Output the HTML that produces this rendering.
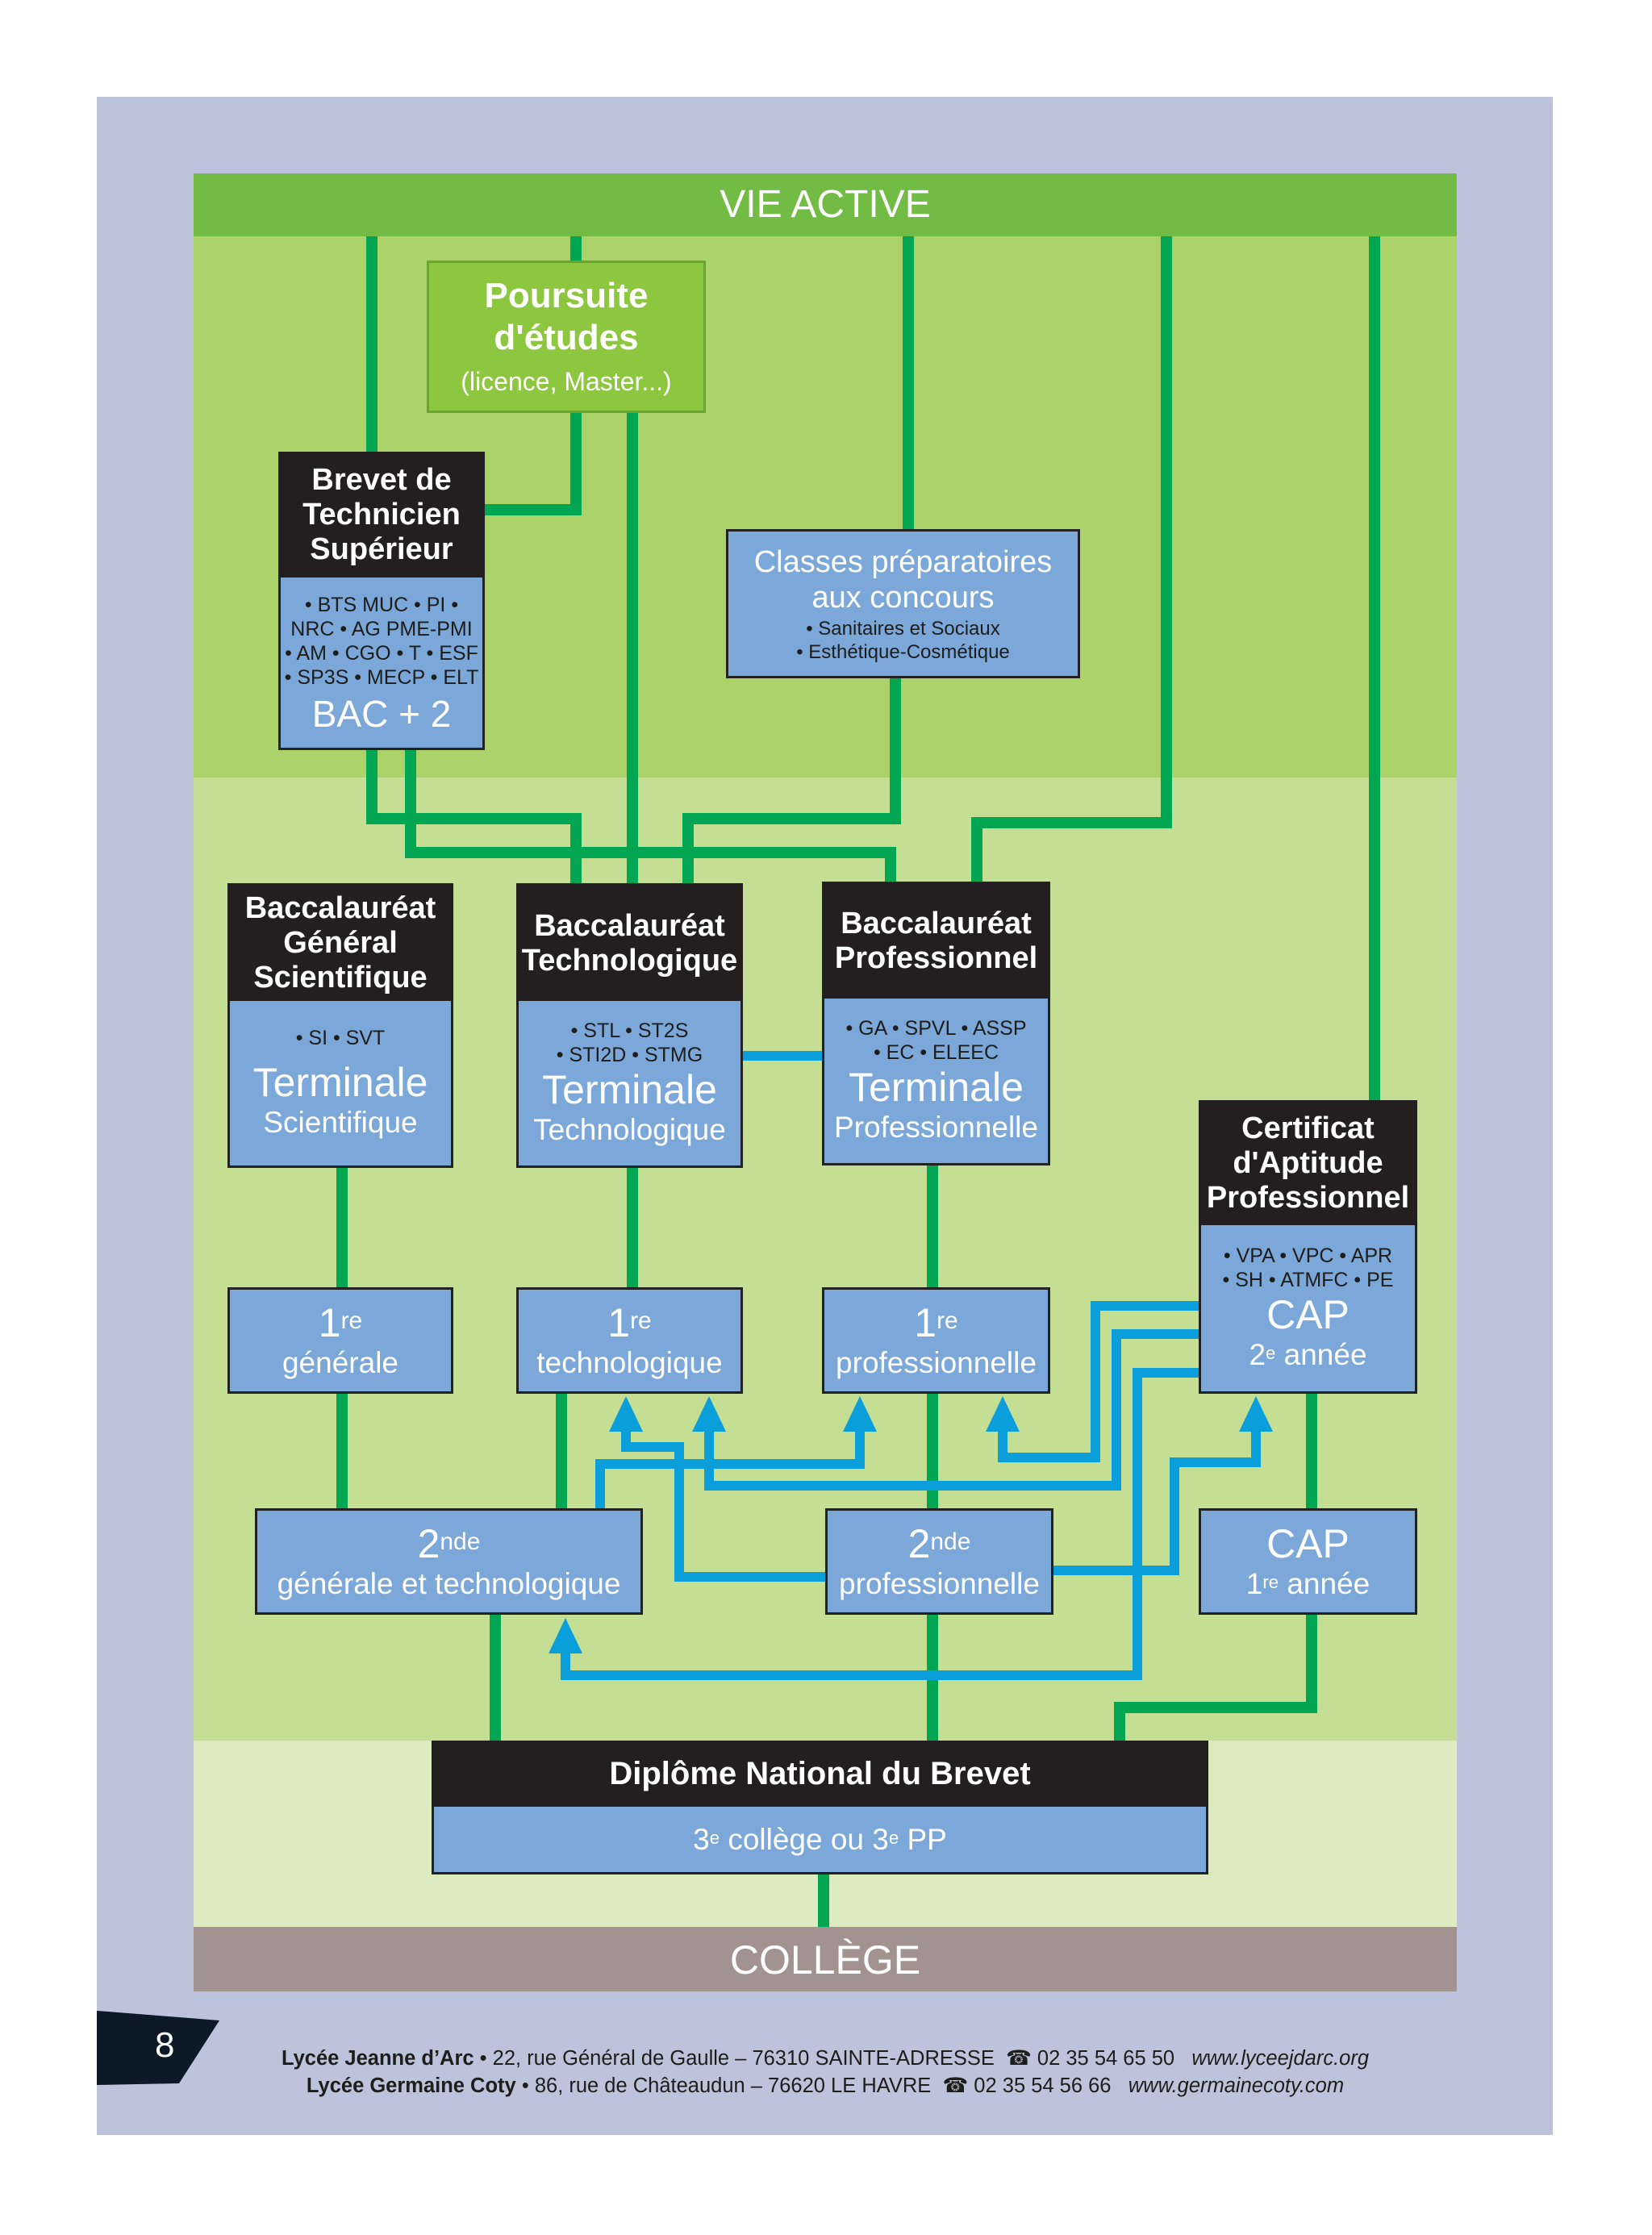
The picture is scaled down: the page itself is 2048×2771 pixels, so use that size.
<!DOCTYPE html>
<html><head><meta charset="utf-8"><style>
*{margin:0;padding:0;box-sizing:border-box}
body{width:2048px;height:2771px;background:#fff;position:relative;overflow:hidden;font-family:"Liberation Sans Narrow","Liberation Sans",sans-serif;}
.a{position:absolute}
.box{position:absolute;border:3px solid #222;background:#7ba7d9;color:#fff;text-align:center;display:flex;flex-direction:column;justify-content:center;align-items:center}
.hd{position:absolute;background:#231f20;color:#fff;text-align:center;font-weight:bold;font-size:38px;line-height:43px;display:flex;flex-direction:column;justify-content:center;align-items:center}
.it{color:#1d1d1b;font-size:25px;line-height:30px}
.big{font-size:50px;line-height:56px}
.sub{font-size:37px;line-height:44px}
sup{font-size:60%;vertical-align:top;position:relative;top:-2px}
</style></head><body>
<div class="a" style="left:120px;top:120px;width:1805px;height:2527px;background:#bcc3da"></div>
<div class="a" style="left:240px;top:293px;width:1566px;height:671px;background:#acd26a"></div>
<div class="a" style="left:240px;top:964px;width:1566px;height:1194px;background:#c4df94"></div>
<div class="a" style="left:240px;top:2158px;width:1566px;height:231px;background:#dcebc0"></div>
<div class="a" style="left:240px;top:215px;width:1566px;height:78px;background:#72bb45;color:#fff;font-size:48px;line-height:78px;text-align:center">VIE ACTIVE</div>
<div class="a" style="left:240px;top:2389px;width:1566px;height:80px;background:#a29391;color:#fff;font-size:50px;line-height:82px;text-align:center">COLLÈGE</div>

<svg class="a" style="left:0;top:0" width="2048" height="2771">
<g fill="none" stroke="#00a651" stroke-width="14">
<path d="M461 293V560"/><path d="M714 293V323"/>
<path d="M714 512V632H601"/>
<path d="M784 512V1095"/>
<path d="M1126 293V656"/>
<path d="M1110 841V1015H853V1095"/>
<path d="M1446 293V1020H1211V1093"/>
<path d="M1704 293V1364"/>
<path d="M461 930V1015H714V1095"/>
<path d="M509 930V1057H1104V1093"/>
<path d="M424 1448V1596"/><path d="M784 1448V1596"/><path d="M1156 1445V1596"/>
<path d="M424 1728V1870"/><path d="M696 1728V1870"/><path d="M1156 1728V1870"/>
<path d="M1626 1728V1870"/>
<path d="M614 2002V2158"/><path d="M1156 2002V2158"/>
<path d="M1626 2002V2117H1388V2158"/>
<path d="M1021 2324V2389"/>
</g>
<g fill="none" stroke="#0a9edb" stroke-width="12">
<path d="M921 1309H1019"/>
<path d="M776 1770V1794H842V1955H1023"/>
<path d="M1066 1770V1815H744V1870"/>
<path d="M879 1770V1842H1384V1654H1486"/>
<path d="M1243 1770V1807H1358V1619H1486"/>
<path d="M1486 1702H1410V2077H701V2045"/>
<path d="M1557 1770V1813H1456V1947H1306"/>
</g>
<g fill="#0a9edb">
<path d="M776 1731L755 1775H797Z"/>
<path d="M879 1731L858 1775H900Z"/>
<path d="M1066 1731L1045 1775H1087Z"/>
<path d="M1243 1731L1222 1775H1264Z"/>
<path d="M1557 1731L1536 1775H1578Z"/>
<path d="M701 2006L680 2050H722Z"/>
</g>
<path d="M120 2493L272 2505L222 2583L120 2585Z" fill="#0b1a26"/>
</svg>

<div class="a" style="left:529px;top:323px;width:346px;height:189px;background:#8dc63f;border:3px solid #6aa533;color:#fff;text-align:center">
<div style="font-weight:bold;font-size:44px;line-height:52px;margin-top:15px">Poursuite<br>d'études</div>
<div style="font-size:32px;line-height:40px;margin-top:8px">(licence, Master...)</div></div>

<div class="hd" style="left:345px;top:560px;width:256px;height:156px">Brevet de<br>Technicien<br>Supérieur</div>
<div class="box" style="left:345px;top:716px;width:256px;height:214px;border-top:0"><div class="it" style="margin-top:6px">• BTS MUC • PI •<br>NRC • AG PME-PMI<br>• AM • CGO • T • ESF<br>• SP3S • MECP • ELT</div><div style="font-size:46px;line-height:60px">BAC + 2</div></div>

<div class="box" style="left:900px;top:656px;width:439px;height:185px"><div style="font-size:38px;line-height:44px">Classes préparatoires<br>aux concours</div><div class="it" style="font-size:24px;line-height:29px;margin-top:2px">• Sanitaires et Sociaux<br>• Esthétique-Cosmétique</div></div>

<div class="hd" style="left:282px;top:1095px;width:280px;height:149px">Baccalauréat<br>Général<br>Scientifique</div>
<div class="box" style="left:282px;top:1241px;width:280px;height:207px;border-top:0"><div class="it">• SI • SVT</div><div class="big" style="margin-top:12px">Terminale</div><div class="sub">Scientifique</div></div>

<div class="hd" style="left:640px;top:1095px;width:281px;height:149px">Baccalauréat<br>Technologique</div>
<div class="box" style="left:640px;top:1241px;width:281px;height:207px;border-top:0"><div class="it">• STL • ST2S<br>• STI2D • STMG</div><div class="big">Terminale</div><div class="sub">Technologique</div></div>

<div class="hd" style="left:1019px;top:1093px;width:283px;height:148px">Baccalauréat<br>Professionnel</div>
<div class="box" style="left:1019px;top:1238px;width:283px;height:207px;border-top:0"><div class="it">• GA • SPVL • ASSP<br>• EC • ELEEC</div><div class="big">Terminale</div><div class="sub">Professionnelle</div></div>

<div class="hd" style="left:1486px;top:1364px;width:271px;height:157px">Certificat<br>d'Aptitude<br>Professionnel</div>
<div class="box" style="left:1486px;top:1519px;width:271px;height:209px;border-top:0"><div class="it">• VPA • VPC • APR<br>• SH • ATMFC • PE</div><div class="big">CAP</div><div class="sub">2<sup>e</sup> année</div></div>

<div class="box" style="left:282px;top:1596px;width:280px;height:132px"><div class="big">1<sup>re</sup></div><div class="sub">générale</div></div>
<div class="box" style="left:640px;top:1596px;width:281px;height:132px"><div class="big">1<sup>re</sup></div><div class="sub">technologique</div></div>
<div class="box" style="left:1019px;top:1596px;width:283px;height:132px"><div class="big">1<sup>re</sup></div><div class="sub">professionnelle</div></div>

<div class="box" style="left:316px;top:1870px;width:481px;height:132px"><div class="big">2<sup>nde</sup></div><div class="sub">générale et technologique</div></div>
<div class="box" style="left:1023px;top:1870px;width:283px;height:132px"><div class="big">2<sup>nde</sup></div><div class="sub">professionnelle</div></div>
<div class="box" style="left:1486px;top:1870px;width:271px;height:132px"><div class="big">CAP</div><div class="sub">1<sup>re</sup> année</div></div>

<div class="hd" style="left:535px;top:2158px;width:963px;height:82px;font-size:40px">Diplôme National du Brevet</div>
<div class="box" style="left:535px;top:2240px;width:963px;height:84px;border-top:0"><div class="sub">3<sup>e</sup> collège ou 3<sup>e</sup> PP</div></div>

<div class="a" style="left:192px;top:2508px;color:#fff;font-size:44px;line-height:56px">8</div>
<div class="a" style="left:240px;top:2535px;width:1566px;text-align:center;font-family:'Liberation Sans',sans-serif;font-size:25.5px;line-height:34px;color:#1d1d1b">
<div><b>Lycée Jeanne d’Arc</b> • 22, rue Général de Gaulle – 76310 SAINTE-ADRESSE &nbsp;☎ 02 35 54 65 50 &nbsp; <i>www.lyceejdarc.org</i></div>
<div><b>Lycée Germaine Coty</b> • 86, rue de Châteaudun – 76620 LE HAVRE &nbsp;☎ 02 35 54 56 66 &nbsp; <i>www.germainecoty.com</i></div>
</div>
</body></html>
